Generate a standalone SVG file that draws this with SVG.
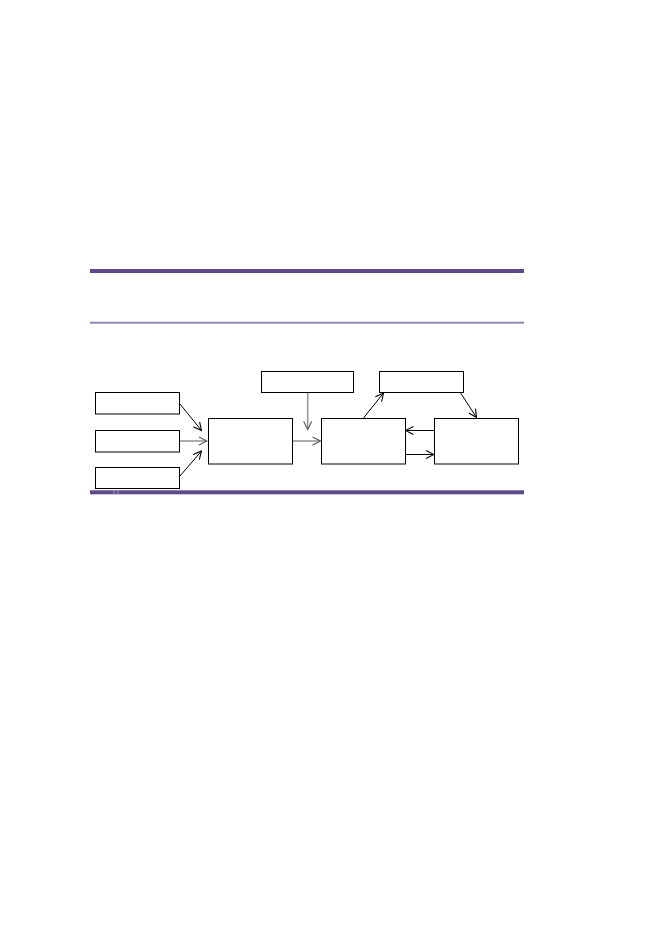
<svg xmlns="http://www.w3.org/2000/svg" width="661" height="933" viewBox="0 0 661 933">
<style>
.box{fill:#fff;stroke:#000;stroke-width:1}
.c{fill:none;stroke:#000;stroke-width:1}
.g{fill:none;stroke:#999;stroke-width:1.6}
</style>
<defs>
<marker id="ab" viewBox="0 0 10 10" refX="9" refY="5" markerWidth="10" markerHeight="10" markerUnits="userSpaceOnUse" orient="auto">
<path d="M1,1 L9,5 L1,9" fill="none" stroke="#000" stroke-width="1.1"/>
</marker>
<marker id="ag" viewBox="0 0 10 10" refX="9" refY="5" markerWidth="10" markerHeight="10" markerUnits="userSpaceOnUse" orient="auto">
<path d="M1,1 L9,5 L1,9" fill="none" stroke="#555" stroke-width="1.1"/>
</marker>
</defs>
<rect width="661" height="933" fill="#fff"/>
<g id="rules">
<rect x="90" y="269" width="434" height="4" fill="#5c4a8c"/>
<rect x="90" y="321.7" width="434" height="2" fill="#9088b4"/>
<rect x="90" y="490.3" width="434" height="4" fill="#5c4a8c"/>
<rect x="113.5" y="490.3" width="1" height="4" fill="#a89cc8"/>
<rect x="117.5" y="490.3" width="1" height="4" fill="#a89cc8"/>
</g>
<g id="connectors">
<line class="c" x1="180" y1="404" x2="201.5" y2="430.5" marker-end="url(#ab)"/>
<line class="g" x1="180" y1="441" x2="207" y2="441" marker-end="url(#ag)"/>
<line class="c" x1="180" y1="476" x2="201.5" y2="451" marker-end="url(#ab)"/>
<line class="g" x1="307.7" y1="392" x2="307.7" y2="429.5" marker-end="url(#ag)"/>
<line class="g" x1="293" y1="441" x2="320.5" y2="441" marker-end="url(#ag)"/>
<line class="c" x1="363.5" y1="418" x2="383.5" y2="393" marker-end="url(#ab)"/>
<line class="c" x1="460" y1="392" x2="476.5" y2="417.5" marker-end="url(#ab)"/>
<line class="c" x1="434" y1="430.5" x2="405.5" y2="430.5" marker-end="url(#ab)"/>
<line class="c" x1="405.5" y1="454.5" x2="434" y2="454.5" marker-end="url(#ab)"/>
</g>
<g id="in1"><rect class="box" x="95.5" y="392.5" width="84" height="21.5"/></g>
<g id="in2"><rect class="box" x="95.5" y="430.5" width="84" height="21.5"/></g>
<g id="in3"><rect class="box" x="95.5" y="467.5" width="84" height="21"/></g>
<g id="proc1"><rect class="box" x="208.5" y="418.5" width="84" height="45.5"/></g>
<g id="top1"><rect class="box" x="261.5" y="371.5" width="92" height="21"/></g>
<g id="proc2"><rect class="box" x="321.5" y="418.5" width="84" height="45.5"/></g>
<g id="top2"><rect class="box" x="379.5" y="371.5" width="84" height="21"/></g>
<g id="proc3"><rect class="box" x="434.5" y="418.5" width="84" height="45.5"/></g>
</svg>
